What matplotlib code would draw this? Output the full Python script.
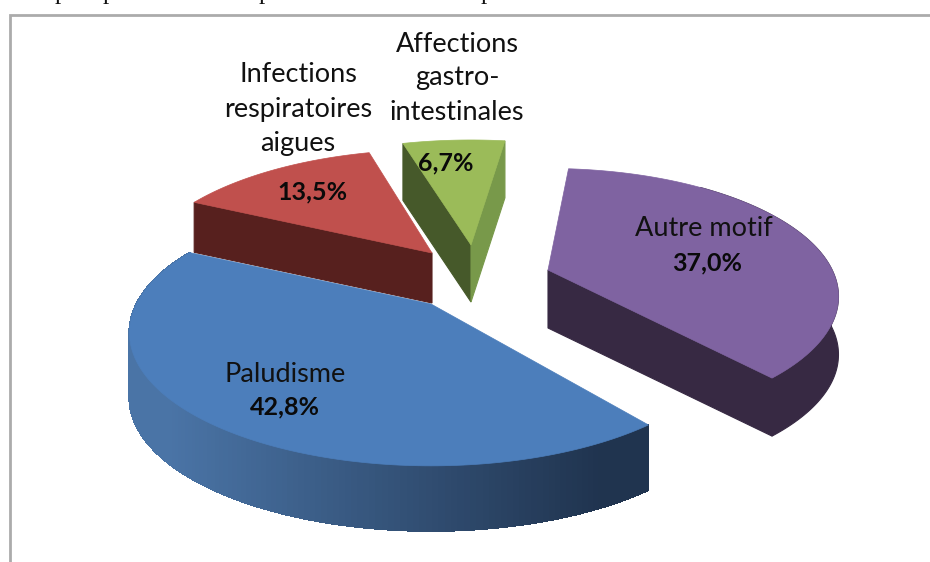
import matplotlib
matplotlib.use("Agg")
import matplotlib.pyplot as plt
import numpy as np
from matplotlib.patches import Polygon

categories = ["Autre motif", "Paludisme", "Infections\nrespiratoires\naigues",
              "Affections\ngastro-\nintestinales"]
values = [37.0, 42.8, 13.5, 6.7]
value_labels = ["37,0%", "42,8%", "13,5%", "6,7%"]

top_colors = ["#7f63a1", "#4c7ebb", "#c0504d", "#9bbb59"]
side_colors = ["#372943", "#2f4d72", "#57201e", "#46592a"]

# pie plane -> screen pixels, back of the pie is further away
START = 9.0
A = 296.0
B = 127.7
P = 0.216

# screen position of each slice tip, wall height, radius and small rotation per slice
apex = [(548, 270), (431, 304), (432, 253), (471, 245)]
depth = [58, 65, 50, 57]
radius = [0.96, 0.995, 0.98, 1.0]
twist = [-4, 0, 0, -1]

# leftovers of the text line cropped at the top of the picture
cut_text_x = [61, 109, 265, 487]

angles = START + np.cumsum([0] + values) * 3.6


def project(theta, tip, r=1.0):
    t = np.radians(theta)
    w = 1 + P * r * np.cos(t)
    return np.column_stack([tip[0] + A * r * np.sin(t) / w,
                            tip[1] - B * r * np.cos(t) / w])


def wall(ax, pts, d, color, z, aa=True):
    low = pts + [0, d]
    ax.add_patch(Polygon(np.vstack([pts, low[::-1]]), closed=True, fc=color, ec=color,
                         lw=0.8, zorder=z, antialiased=aa))


def mix(c0, c1, f):
    return np.array(matplotlib.colors.to_rgb(c0)) * (1 - f) + np.array(matplotlib.colors.to_rgb(c1)) * f


fig = plt.figure(figsize=(9.3, 5.62), dpi=100)
ax = fig.add_axes([0, 0, 1, 1])
ax.set_xlim(0, 930)
ax.set_ylim(562, 0)
ax.axis("off")

# order back to front: red, green, purple, blue
for i, z in [(2, 2), (3, 3), (0, 4), (1, 5)]:
    tip = np.array(apex[i], dtype=float)
    a0, a1 = angles[i] + twist[i], angles[i + 1] + twist[i]
    rim = project(np.linspace(a0, a1, 160), tip, radius[i])

    if i == 1:
        # gradient along the outer wall, dark at the right end
        for k in range(len(rim) - 1):
            f = np.clip((rim[k, 0] - 170) / 430, 0, 1)
            wall(ax, rim[k:k + 2], depth[i], mix("#4a74a6", "#20344f", f), z, aa=False)
    elif i == 0:
        wall(ax, np.vstack([tip, rim[-1]]), depth[i], side_colors[i], z)
        wall(ax, rim[rim[:, 0] > 700], depth[i], side_colors[i], z)
    elif i == 2:
        wall(ax, np.vstack([rim[0], tip]), depth[i], side_colors[i], z)
    elif i == 3:
        wall(ax, np.vstack([rim[0], tip]), depth[i], side_colors[i], z)
        wall(ax, np.vstack([tip, rim[-1]]), depth[i], "#78994a", z)

    ax.add_patch(Polygon(np.vstack([tip, rim]), closed=True, fc=top_colors[i], ec=top_colors[i],
                         lw=0.5, zorder=z + 0.5))

# chart frame
ax.plot([10, 10, 930], [562, 15, 15], color="#ababab", lw=2, zorder=1, solid_joinstyle="miter")

for x in cut_text_x:
    ax.text(x, -1, "p", ha="center", va="baseline", family="Liberation Serif", fontsize=18, color="#111111")

font = "Lato"
name_pos = [(704, 228), (285, 374), (298, 109), (457, 78)]
pct_pos = [(707, 263), (285, 407), (312, 192), (446, 163)]
for name, pct, n, p in zip(categories, value_labels, name_pos, pct_pos):
    ax.text(n[0], n[1], name, ha="center", va="center", family=font, fontsize=19.5,
            linespacing=1.45, color="#111111", zorder=10)
    ax.text(p[0], p[1], pct, ha="center", va="center", family=font, fontsize=18,
            fontweight="bold", color="#0a0a0a", zorder=10)

fig.savefig("out.png", dpi=100)
